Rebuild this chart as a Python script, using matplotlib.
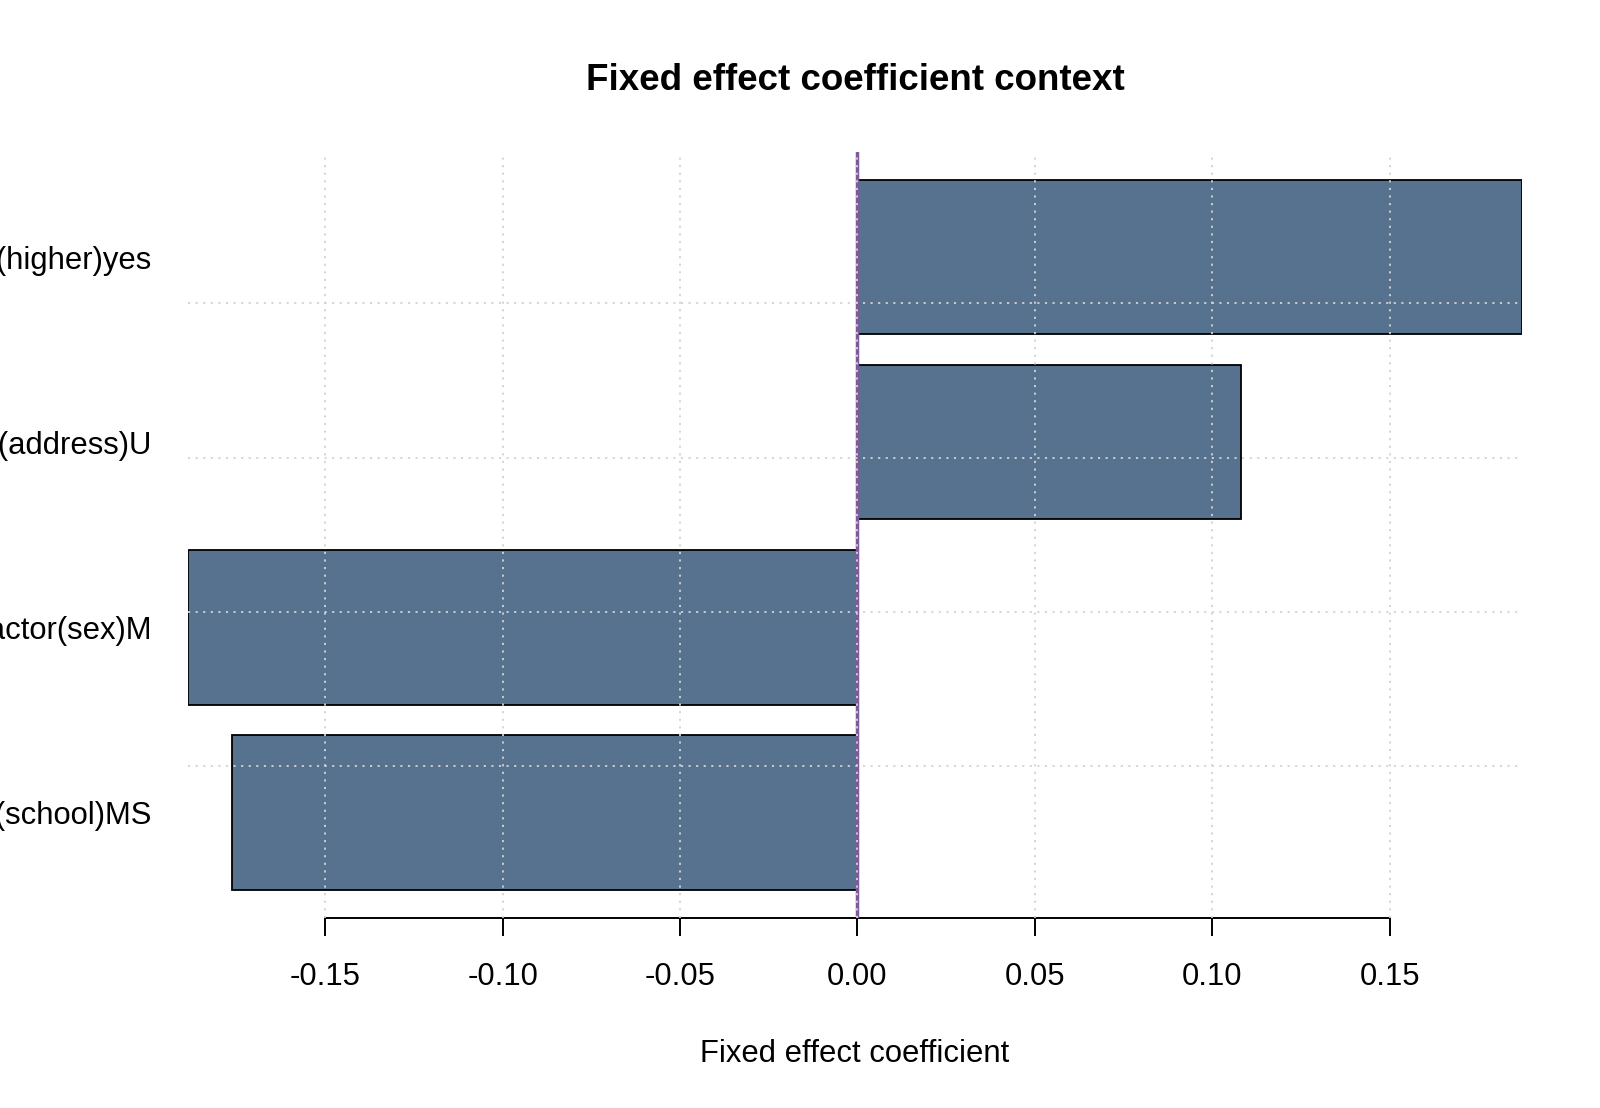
import numpy as np
import matplotlib
matplotlib.use("Agg")
import matplotlib.pyplot as plt

# fixed effect estimates, bottom bar first (R barplot order)
terms = ["factor(school)MS", "factor(sex)M", "factor(address)U", "factor(higher)yes"]
coefs = [-0.1762, -0.1887, 0.1080, 0.1873]
xticks = [-0.15, -0.10, -0.05, 0.00, 0.05, 0.10, 0.15]

plt.rcParams["font.family"] = ["Liberation Sans", "DejaVu Sans"]

bar_fill = "#56728e"
zero_col = "#7d5a99"
grid_col = "#d3d3d3"

fig = plt.figure(figsize=(16, 11.08), dpi=100)
ax = fig.add_axes([0.1175, 0.1713, 0.8337, 0.6919])

# R-style barplot: width 1, space 0.2
pos = 0.7 + 1.2 * np.arange(len(terms))
ax.barh(pos, coefs, height=1.0, color=bar_fill, edgecolor="black",
        linewidth=1.3, zorder=2)

ax.set_xlim(min(coefs), max(coefs))
ylo, yhi = 0.2, 1.2 * len(terms)
pad = 0.04 * (yhi - ylo)
ax.set_ylim(ylo - pad, yhi + pad)

ax.axvline(0, color=zero_col, linewidth=2.5, zorder=3)

# dotted grid drawn over the bars
for x in xticks:
    ax.axvline(x, color=grid_col, linewidth=1.3, linestyle=(0, (1.2, 3.0)), zorder=4)
for y in range(1, len(terms) + 1):
    ax.axhline(y, color=grid_col, linewidth=1.3, linestyle=(0, (1.2, 3.0)), zorder=4)

for s in ["top", "right", "left"]:
    ax.spines[s].set_visible(False)
ax.spines["bottom"].set_bounds(xticks[0], xticks[-1])
ax.spines["bottom"].set_linewidth(1.4)

ax.set_xticks(xticks)
ax.set_xticklabels([f"{t:.2f}" for t in xticks])
ax.tick_params(axis="x", length=13, width=1.4, pad=18.5, labelsize=22.3)
ax.set_yticks(pos)
ax.set_yticklabels(terms)
ax.tick_params(axis="y", length=0, pad=26, labelsize=22.3)

ax.set_xlabel("Fixed effect coefficient", fontsize=22.3, labelpad=34)
ax.set_title("Fixed effect coefficient context", fontsize=26.5,
             fontweight="bold", pad=44)

fig.savefig("out.png", dpi=100)
